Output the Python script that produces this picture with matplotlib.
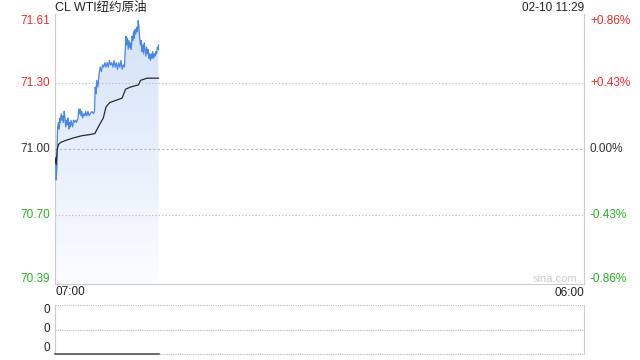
import matplotlib
matplotlib.use("Agg")
import matplotlib.pyplot as plt
import matplotlib.transforms as mtrans
from matplotlib.colors import LinearSegmentedColormap
import numpy as np

# intraday data, minutes after 07:00
price_min = [0, 2, 3, 5, 6, 7, 9, 11, 13, 14, 16, 18, 20, 22, 24, 26, 28, 30, 32, 34,
             36, 38, 40, 42, 44, 46, 48, 50, 53, 56, 60, 62, 64, 66, 68, 70, 72, 75, 78, 80,
             83, 86, 89, 92, 96, 100, 103, 105, 107, 109, 112, 115, 118, 121, 124, 127, 130, 133, 136, 139,
             142, 145, 148, 151, 154, 157, 160, 163, 166, 169, 172, 175, 178, 181, 183, 185, 187, 189, 191, 193,
             195, 197, 199, 201, 203, 205, 207, 209, 211, 213, 215, 217, 219, 221, 223, 225, 227, 229, 231, 233,
             235, 237, 239, 241, 243, 245, 247, 249, 251, 253, 255, 257, 259, 261, 263, 265, 267, 269, 270]
price = [70.96, 70.93, 70.86, 70.92, 71.05, 71.10, 71.12, 71.09, 71.14, 71.12, 71.16, 71.13, 71.15, 71.12, 71.17, 71.14, 71.10, 71.13, 71.11, 71.14,
         71.09, 71.12, 71.10, 71.13, 71.11, 71.10, 71.13, 71.12, 71.13, 71.12, 71.14, 71.18, 71.16, 71.18, 71.15, 71.17, 71.14, 71.16, 71.15, 71.17,
         71.15, 71.17, 71.15, 71.16, 71.17, 71.16, 71.17, 71.28, 71.25, 71.31, 71.28, 71.34, 71.37, 71.35, 71.38, 71.37, 71.39, 71.37, 71.39, 71.37,
         71.40, 71.38, 71.39, 71.37, 71.40, 71.37, 71.39, 71.36, 71.39, 71.37, 71.40, 71.36, 71.38, 71.37, 71.44, 71.51, 71.47, 71.50, 71.45, 71.49,
         71.46, 71.48, 71.45, 71.51, 71.49, 71.53, 71.50, 71.54, 71.52, 71.55, 71.53, 71.58, 71.55, 71.50, 71.47, 71.49, 71.44, 71.47, 71.43, 71.48,
         71.45, 71.42, 71.46, 71.43, 71.45, 71.41, 71.43, 71.40, 71.43, 71.41, 71.44, 71.41, 71.43, 71.42, 71.44, 71.43, 71.46, 71.45, 71.47]

avg_min = [0, 3, 6, 9, 15, 30, 48, 70, 90, 104, 113, 126, 133, 143, 175, 184, 197, 218, 223, 240, 270]
avg_price = [70.96, 70.93, 71.00, 71.02, 71.03, 71.04, 71.05, 71.06, 71.065, 71.07, 71.10, 71.14, 71.19, 71.21, 71.23, 71.27, 71.28, 71.29, 71.31, 71.32, 71.32]

volume_min = [0, 270]
volume = [0, 0]

prev_close = 71.00
y_ticks = [71.61, 71.30, 71.00, 70.70, 70.39]
pct_labels = ["+0.86%", "+0.43%", "0.00%", "-0.43%", "-0.86%"]
tick_colors = ["#f02828", "#f02828", "#333333", "#26b326", "#26b326"]
session_len = 1380  # 07:00 -> 06:00

fig = plt.figure(figsize=(6.4, 3.6), dpi=100)
ax = fig.add_axes([55 / 640, 1 - 284 / 360, 529 / 640, 270 / 360])
vax = fig.add_axes([55 / 640, 1 - 354 / 360, 529 / 640, 49 / 360])

font = ["Liberation Sans", "DejaVu Sans"]
fs = 8.5

# main price panel
ax.set_xlim(0, session_len)
ax.set_ylim(y_ticks[-1], y_ticks[0])
for y in y_ticks[1:-1]:
    ls = (0, (2, 2)) if y == prev_close else (0, (1, 2))
    ax.axhline(y, color="#b5b5b5", lw=0.8, ls=ls, zorder=3)

# gradient fill under price
cmap = LinearSegmentedColormap.from_list("fill", ["#fbfcff", "#d3e2f8"])
grad = np.linspace(0, 1, 256).reshape(-1, 1)
img = ax.imshow(grad, cmap=cmap, aspect="auto", origin="lower",
                extent=[0, price_min[-1], y_ticks[-1], max(price)], zorder=2)
poly = ax.fill_between(price_min, price, y_ticks[-1], color="none", lw=0)
clip = mtrans.TransformedPath(poly.get_paths()[0], ax.transData)
img.set_clip_path(clip)

ax.plot(price_min, price, color="#4a86e8", lw=0.9, zorder=4)
ax.plot(avg_min, avg_price, color="#2a2a2a", lw=0.9, zorder=5)

for s in ["left", "right", "bottom"]:
    ax.spines[s].set_color("#cccccc")
ax.spines["top"].set_visible(False)
ax.set_xticks([])
ax.set_yticks([])

# y labels both sides
for i, (y, p, c) in enumerate(zip(y_ticks, pct_labels, tick_colors)):
    if i == 0:
        off = -7
    elif i == len(y_ticks) - 1:
        off = 5
    else:
        off = 0
    tr_l = mtrans.offset_copy(mtrans.blended_transform_factory(ax.transAxes, ax.transData),
                              fig=fig, x=-5, y=off, units="dots")
    ax.text(0, y, f"{y:.2f}", transform=tr_l, ha="right", va="center",
            color=c, fontsize=fs, family=font)
    tr_r = mtrans.offset_copy(mtrans.blended_transform_factory(ax.transAxes, ax.transData),
                              fig=fig, x=6, y=off, units="dots")
    ax.text(1, y, p, transform=tr_r, ha="left", va="center",
            color=c, fontsize=fs, family=font)

fig.text(55 / 640, 1 - 8 / 360, "CL WTI纽约原油", ha="left", va="center",
         fontsize=9, color="#222222", family=["Liberation Sans", "Noto Sans CJK SC"])
fig.text(584 / 640, 1 - 8 / 360, "02-10 11:29", ha="right", va="center",
         fontsize=fs, color="#222222", family=font)
fig.text(555 / 640, 1 - 279 / 360, "sina.com", ha="center", va="center",
         fontsize=8, color="#cccccc", family=font)
fig.text(55 / 640, 1 - 292 / 360, "07:00", ha="left", va="center",
         fontsize=fs, color="#222222", family=font)
fig.text(584 / 640, 1 - 293 / 360, "06:00", ha="right", va="center",
         fontsize=fs, color="#222222", family=font)

# volume panel
vax.set_xlim(0, session_len)
vax.set_ylim(0, 2)
for y in [0, 1, 2]:
    vax.axhline(y, color="#bbbbbb", lw=0.8, ls=(0, (1, 1)), clip_on=False)
vax.plot(volume_min, volume, color="#555555", lw=1.2, clip_on=False, zorder=4)
for s in ["left", "right"]:
    vax.spines[s].set_color("#cccccc")
vax.spines["top"].set_visible(False)
vax.spines["bottom"].set_visible(False)
vax.set_xticks([])
vax.set_yticks([])
for y, off in zip([2, 1, 0], [-5, 0, 6]):
    tr = mtrans.offset_copy(mtrans.blended_transform_factory(vax.transAxes, vax.transData),
                            fig=fig, x=-5, y=off, units="dots")
    vax.text(0, y, "0", transform=tr, ha="right", va="center",
             fontsize=fs, color="#222222", family=font)

fig.savefig("out.png", dpi=100)
